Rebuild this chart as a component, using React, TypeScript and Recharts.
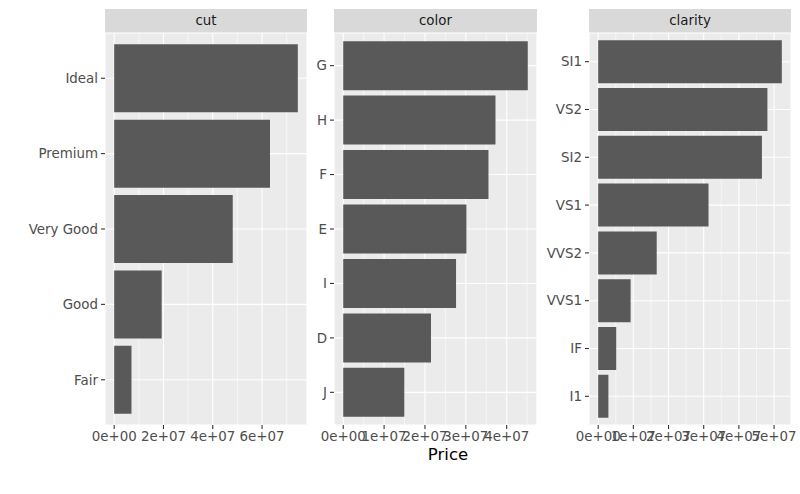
import { Bar, BarChart, CartesianGrid, XAxis, YAxis } from "recharts";

// total price per level (diamonds), top to bottom
const cutLevels = ["Ideal", "Premium", "Very Good", "Good", "Fair"];
const cutPrice = [74513487, 63221498, 48107623, 19275009, 7017600];

const colorLevels = ["G", "H", "F", "E", "I", "D", "J"];
const colorPrice = [45158240, 37257301, 35542866, 30142944, 27608146, 21476439, 14949281];

const clarityLevels = ["SI1", "VS2", "SI2", "VS1", "VVS2", "VVS1", "IF", "I1"];
const clarityPrice = [52207000, 48110000, 46550000, 31370000, 16640000, 9220000, 5130000, 2907000];

const cutTicks = [0, 2e7, 4e7, 6e7];
const cutMinor = [1e7, 3e7, 5e7, 7e7];
const colorTicks = [0, 1e7, 2e7, 3e7, 4e7];
const colorMinor = [5e6, 1.5e7, 2.5e7, 3.5e7, 4.5e7];
const clarityTicks = [0, 1e7, 2e7, 3e7, 4e7, 5e7];
const clarityMinor = [5e6, 1.5e7, 2.5e7, 3.5e7, 4.5e7];

const FONT = "DejaVu Sans";
const TOP = 33;
const BOTTOM = 425;
const TICK_FS = 13.4;

const sci = (v: number) => {
  if (v === 0) return "0e+00";
  const [m, e] = v.toExponential(0).split("e");
  const sign = e[0];
  const digits = e.slice(1).padStart(2, "0");
  return `${m}e${sign}${digits}`;
};

type PanelProps = {
  title: string;
  cats: string[];
  values: number[];
  ticks: number[];
  minor: number[];
  left: number;
  width: number;
  axisW: number;
};

const Panel = ({ title, cats, values, ticks, minor, left, width, axisW }: PanelProps) => {
  const data = cats.map((c, i) => ({ name: c, value: values[i] }));
  const max = Math.max(...values);
  const domain = [-0.05 * max, 1.05 * max];
  const h = BOTTOM - TOP;
  const pad = (0.1 * h) / (cats.length + 0.2);
  const extra = 12;
  return (
    <>
      <div
        style={{
          position: "absolute",
          left,
          top: 9,
          width,
          height: 24,
          background: "#D9D9D9",
          color: "#1A1A1A",
          fontFamily: FONT,
          fontSize: TICK_FS,
          lineHeight: "24px",
          textAlign: "center",
        }}
      >
        {title}
      </div>
      <div style={{ position: "absolute", left: left - axisW, top: 0 }}>
        <BarChart
          width={axisW + width + extra}
          height={494}
          data={data}
          layout="vertical"
          margin={{ top: TOP, right: extra, bottom: 39, left: 0 }}
          barCategoryGap="5%"
        >
          <CartesianGrid
            xAxisId="minor"
            fill="#EBEBEB"
            fillOpacity={1}
            stroke="#FFFFFF"
            strokeWidth={0.55}
            horizontal={false}
          />
          <CartesianGrid stroke="#FFFFFF" strokeWidth={1.1} />
          <XAxis
            xAxisId="minor"
            type="number"
            dataKey="value"
            domain={domain}
            allowDataOverflow
            ticks={minor}
            interval={0}
            hide
          />
          <XAxis
            type="number"
            dataKey="value"
            domain={domain}
            allowDataOverflow
            ticks={ticks}
            tickFormatter={sci}
            axisLine={false}
            tickSize={4}
            tickMargin={2}
            height={30}
            tickLine={{ stroke: "#333333", strokeWidth: 1.1 }}
            tick={{ fill: "#4D4D4D", fontSize: TICK_FS, fontFamily: FONT }}
            interval={0}
          />
          <YAxis
            type="category"
            dataKey="name"
            width={axisW}
            padding={{ top: pad, bottom: pad }}
            axisLine={false}
            tickSize={4}
            tickMargin={3}
            tickLine={{ stroke: "#333333", strokeWidth: 1.1 }}
            tick={{ fill: "#4D4D4D", fontSize: TICK_FS, fontFamily: FONT }}
            interval={0}
          />
          <Bar dataKey="value" fill="#595959" isAnimationActive={false} />
        </BarChart>
      </div>
    </>
  );
};

export default function App() {
  return (
    <div
      style={{
        position: "absolute",
        left: 0,
        top: 0,
        width: 800,
        height: 494,
        background: "#FFFFFF",
        overflow: "hidden",
      }}
    >
      <Panel title="cut" cats={cutLevels} values={cutPrice} ticks={cutTicks} minor={cutMinor} left={105} width={202} axisW={105} />
      <Panel title="color" cats={colorLevels} values={colorPrice} ticks={colorTicks} minor={colorMinor} left={334} width={203} axisW={30} />
      <Panel title="clarity" cats={clarityLevels} values={clarityPrice} ticks={clarityTicks} minor={clarityMinor} left={589} width={202} axisW={50} />
      <div
        style={{
          position: "absolute",
          left: 105,
          width: 686,
          top: 445,
          textAlign: "center",
          fontFamily: FONT,
          fontSize: 16.5,
          color: "#000000",
        }}
      >
        Price
      </div>
    </div>
  );
}
